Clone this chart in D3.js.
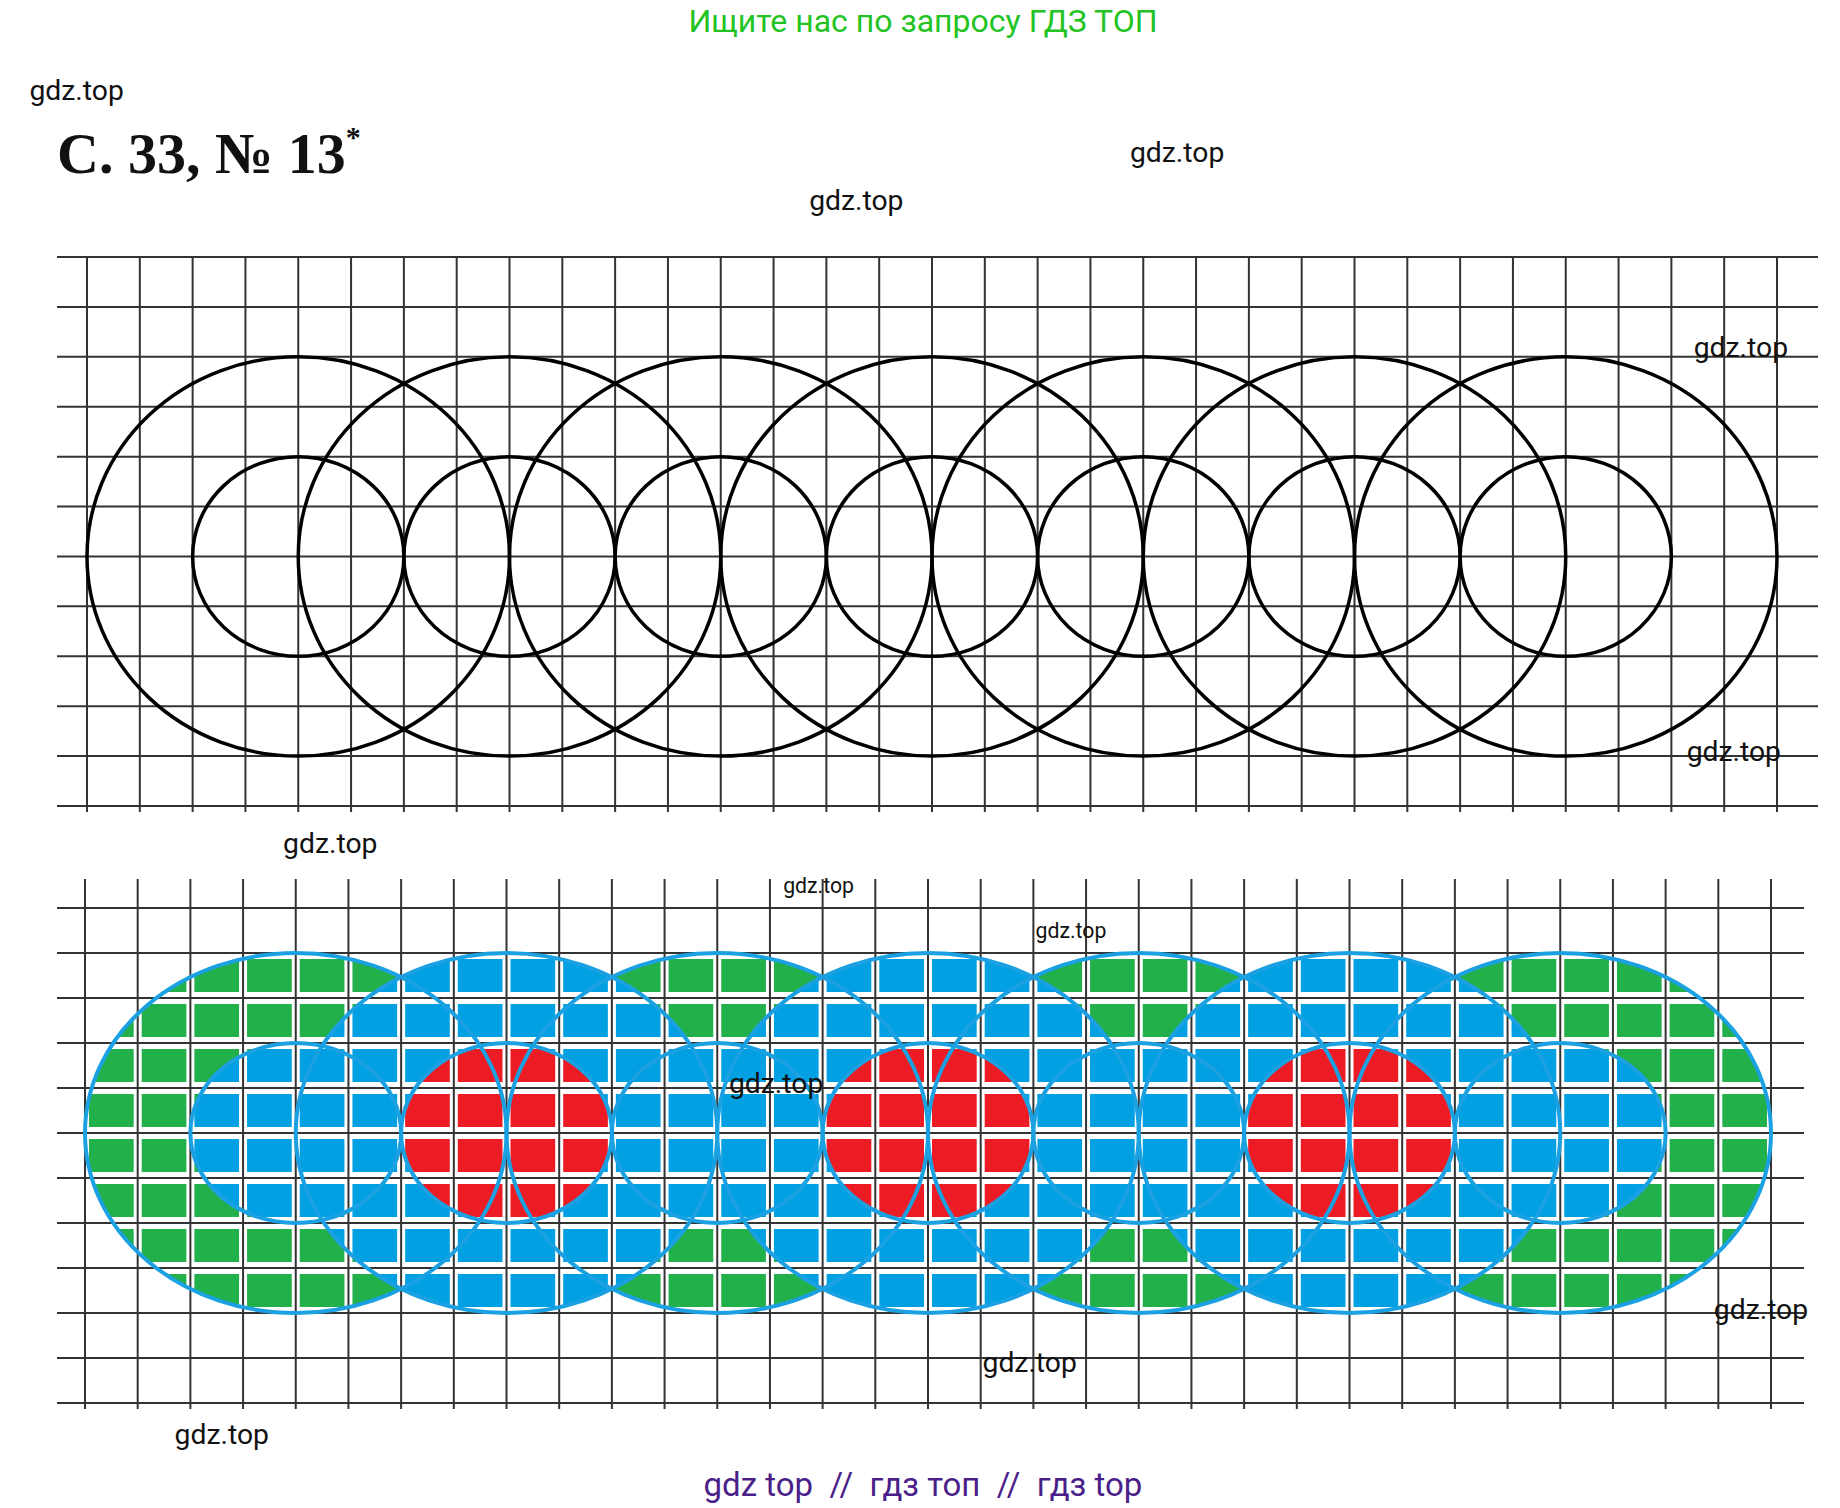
<!DOCTYPE html>
<html><head><meta charset="utf-8">
<script src="https://cdn.jsdelivr.net/npm/d3@7"></script>
<style>body{margin:0;background:#fff}svg{display:block}</style>
</head><body>
<script>
const centerCols = [4, 8, 12, 16, 20, 24, 28];
const bigR = 4, smallR = 2;
const topCenterRow = 6, botCenterRow = 5;
const bigFill = ["#22b04b", "#00a0e3", "#22b04b", "#00a0e3", "#22b04b", "#00a0e3", "#22b04b"];
const smallFill = ["#00a0e3", "#ed1c24", "#00a0e3", "#ed1c24", "#00a0e3", "#ed1c24", "#00a0e3"];
const nCols = 32, nRows = 11;
const watermarks = [
  [25, 85, 24], [958, 137, 24], [686, 178, 24], [1436, 303, 24], [1430, 645, 24],
  [240, 723, 24], [664, 757, 18], [878, 795, 18], [618, 927, 24], [1453, 1118, 24],
  [833, 1163, 24], [148, 1224, 24]
];
const k = 1840 / 1560;

const svg = d3.select("body").append("svg").attr("width", 1840).attr("height", 1508);

svg.append("text").attr("x", 923).attr("y", 32).attr("text-anchor", "middle")
  .attr("font-family", "Roboto").attr("font-size", 32).attr("fill", "#22c322")
  .text("Ищите нас по запросу ГДЗ ТОП");

const title = svg.append("text").attr("x", 57).attr("y", 173)
  .attr("font-family", "Liberation Serif").attr("font-weight", "bold").attr("font-size", 58).attr("fill", "#111");
title.append("tspan").text("С. 33, № 13");
title.append("tspan").attr("dy", -26).attr("font-size", 30).text("*");

function panel(x0, x1, y0, y1, hx0, hx1, vTop, vBot, cr, filled) {
  const xs = d3.scaleLinear().domain([0, nCols]).range([x0, x1]);
  const ys = d3.scaleLinear().domain([0, nRows]).range([y0, y1]);
  const g = svg.append("g");
  const rx = r => xs(r) - xs(0), ry = r => ys(r) - ys(0);
  if (filled) {
    const order = [0, 2, 4, 6, 1, 3, 5];
    order.forEach(i => g.append("ellipse").attr("cx", xs(centerCols[i])).attr("cy", ys(cr))
      .attr("rx", rx(bigR)).attr("ry", ry(bigR)).attr("fill", bigFill[i]));
    centerCols.forEach((c, i) => g.append("ellipse").attr("cx", xs(c)).attr("cy", ys(cr))
      .attr("rx", rx(smallR)).attr("ry", ry(smallR)).attr("fill", smallFill[i]));
    d3.range(nRows + 1).forEach(r => g.append("line").attr("x1", hx0).attr("x2", hx1)
      .attr("y1", ys(r)).attr("y2", ys(r)).attr("stroke", "#fff").attr("stroke-width", 12));
    d3.range(nCols + 1).forEach(c => g.append("line").attr("x1", xs(c)).attr("x2", xs(c))
      .attr("y1", vTop).attr("y2", vBot).attr("stroke", "#fff").attr("stroke-width", 8));
  }
  d3.range(nRows + 1).forEach(r => g.append("line").attr("x1", hx0).attr("x2", hx1)
    .attr("y1", ys(r)).attr("y2", ys(r)).attr("stroke", "#333").attr("stroke-width", 2));
  d3.range(nCols + 1).forEach(c => g.append("line").attr("x1", xs(c)).attr("x2", xs(c))
    .attr("y1", vTop).attr("y2", vBot).attr("stroke", "#333").attr("stroke-width", 2));
  const stroke = filled ? "#1ba1e2" : "#000";
  centerCols.forEach(c => {
    [bigR, smallR].forEach(R => g.append("ellipse").attr("cx", xs(c)).attr("cy", ys(cr))
      .attr("rx", rx(R)).attr("ry", ry(R)).attr("fill", "none")
      .attr("stroke", stroke).attr("stroke-width", filled ? 4 : 3.5));
  });
}
panel(87, 1777, 257, 806, 57, 1818, 257, 812, topCenterRow, false);
panel(85, 1771, 908, 1403, 57, 1804, 879, 1409, botCenterRow, true);

watermarks.forEach(([x, y, s]) => svg.append("text").attr("x", x * k).attr("y", y * k)
  .attr("font-family", "Roboto").attr("font-size", s * k).attr("fill", "#111").text("gdz.top"));

svg.append("text").attr("x", 923).attr("y", 1496).attr("text-anchor", "middle")
  .attr("font-family", "Roboto").attr("font-size", 33).attr("fill", "#4b1f8a")
  .attr("xml:space", "preserve").style("white-space", "pre")
  .text("gdz top  //  гдз топ  //  гдз top");
</script>
</body></html>
